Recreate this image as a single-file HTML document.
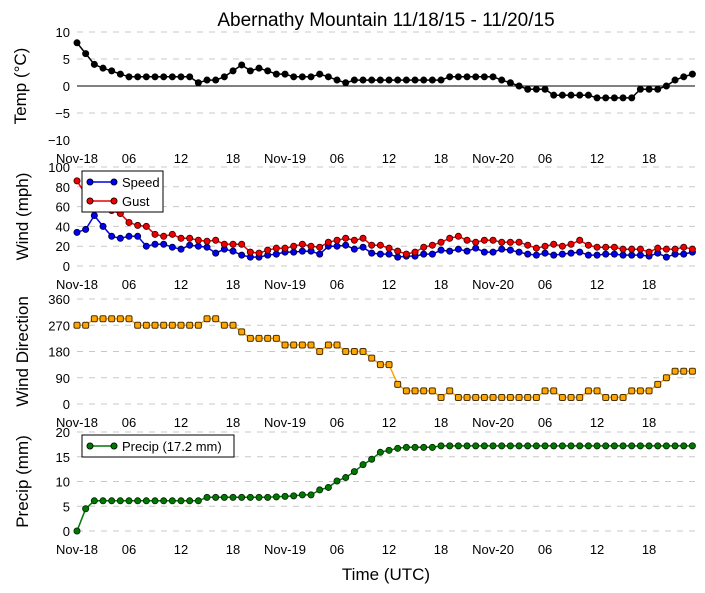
<!DOCTYPE html>
<html><head><meta charset="utf-8"><style>
body{margin:0;background:#fff;}
svg{display:block;font-family:"Liberation Sans","DejaVu Sans",sans-serif;}
</style></head><body>
<svg id="chart" width="705" height="593" viewBox="0 0 705 593" xmlns="http://www.w3.org/2000/svg">
<text x="386" y="26" font-size="19" text-anchor="middle">Abernathy Mountain 11/18/15 - 11/20/15</text>
<text x="386" y="580" font-size="17" text-anchor="middle">Time (UTC)</text>
</svg>
<script>
const xTickHours = [0, 6, 12, 18, 24, 30, 36, 42, 48, 54, 60, 66];
const xTickLabels = ["Nov-18","06","12","18","Nov-19","06","12","18","Nov-20","06","12","18"];
const temp = [8,6,4,3.3,2.8,2.2,1.7,1.7,1.7,1.7,1.7,1.7,1.7,1.7,0.6,1.1,1.1,1.7,2.8,3.9,2.8,3.3,2.8,2.2,2.2,1.7,1.7,1.7,2.2,1.7,1.1,0.6,1.1,1.1,1.1,1.1,1.1,1.1,1.1,1.1,1.1,1.1,1.1,1.7,1.7,1.7,1.7,1.7,1.7,1.1,0.6,0,-0.6,-0.6,-0.6,-1.7,-1.7,-1.7,-1.7,-1.7,-2.2,-2.2,-2.2,-2.2,-2.2,-0.6,-0.6,-0.6,0,1.1,1.7,2.2];
const speed = [34,37,51,40,30,28,30,30,20,22,22,19,17,21,20,19,13,17,15,11,9,9,11,12,14,14,15,15,12,20,20,21,17,19,13,12,12,9,10,10,12,12,16,15,17,15,18,14,14,17,16,14,12,11,13,11,12,13,14,11,11,12,12,11,11,11,10,13,9,12,12,14];
const gust = [86,72,62,58,56,53,44,41,40,32,30,32,28,28,26,25,26,22,22,22,14,13,16,18,18,20,22,20,19,24,26,28,26,28,21,21,18,15,12,14,19,21,24,28,30,26,24,26,26,24,24,24,21,18,20,22,20,22,26,21,19,19,19,17,17,17,14,18,17,17,19,17];
const dir = [270,270,292.5,292.5,292.5,292.5,292.5,270,270,270,270,270,270,270,270,292.5,292.5,270,270,247.5,225,225,225,225,202.5,202.5,202.5,202.5,180,202.5,202.5,180,180,180,157.5,135,135,67.5,45,45,45,45,22.5,45,22.5,22.5,22.5,22.5,22.5,22.5,22.5,22.5,22.5,22.5,45,45,22.5,22.5,22.5,45,45,22.5,22.5,22.5,45,45,45,67.5,90,112.5,112.5,112.5];
const precip = [0,4.5,6.1,6.1,6.1,6.1,6.1,6.1,6.1,6.1,6.1,6.1,6.1,6.1,6.1,6.8,6.8,6.8,6.8,6.8,6.8,6.8,6.8,6.9,7.0,7.1,7.3,7.3,8.3,8.8,10.1,10.8,12.0,13.4,14.5,15.9,16.3,16.7,16.9,16.9,16.9,16.9,17.2,17.2,17.2,17.2,17.2,17.2,17.2,17.2,17.2,17.2,17.2,17.2,17.2,17.2,17.2,17.2,17.2,17.2,17.2,17.2,17.2,17.2,17.2,17.2,17.2,17.2,17.2,17.2,17.2,17.2];
const tempTicks = [10,5,0,-5,-10];
const windTicks = [0,20,40,60,80,100];
const dirTicks = [0,90,180,270,360];
const precipTicks = [0,5,10,15,20];

const NS = "http://www.w3.org/2000/svg";
const svg = document.getElementById('chart');
const X0 = 77, X1 = 695, XMAX = 71.3;
const xs = h => X0 + (X1 - X0) * h / XMAX;
function el(tag, attrs, parent) {
  const e = document.createElementNS(NS, tag);
  for (const k in attrs) e.setAttribute(k, attrs[k]);
  (parent || svg).appendChild(e);
  return e;
}
function panel(o) {
  const g = el('g', {});
  
  
  const ys = v => o.bottom - (o.bottom - o.top) * (v - o.min) / (o.max - o.min);
  o.ticks.forEach(t => {
    const y = ys(t);
    if (o.grid.includes(t)) {
      const l = el('line', {x1: X0, x2: X1, y1: y, y2: y, stroke: '#c8c8c8', 'stroke-width': 1, 'stroke-dasharray': '6,6'}, g);
      
      
    }
    const tx = el('text', {x: 70, y: y + 5, 'font-size': 13, 'text-anchor': 'end'}, g);
    tx.textContent = String(t).replace('-', '\u2212');
    
    
  });
  if (o.zero) {
    const l = el('line', {x1: X0, x2: X1, y1: ys(0), y2: ys(0), stroke: '#000', 'stroke-width': 1}, g);
    
    
  }
  xTickHours.forEach((h, i) => {
    const tx = el('text', {x: xs(h), y: o.bottom + 23, 'font-size': 13, 'text-anchor': 'middle'}, g);
    tx.textContent = xTickLabels[i];
    
    
  });
  const cy = (o.top + o.bottom) / 2;
  const yl = el('text', {x: 0, y: 0, 'font-size': 17, 'text-anchor': 'middle', transform: `translate(${o.lx},${cy}) rotate(-90)`}, g);
  yl.textContent = o.label;
  
  
  o.series.forEach(s => {
    const pts = s.data.map((v, i) => xs(i).toFixed(1) + ',' + ys(v).toFixed(1)).join(' ');
    const pl = el('polyline', {points: pts, fill: 'none', stroke: s.color, 'stroke-width': 1.5}, g);
    
    
    s.data.forEach((v, i) => {
      let m;
      if (s.square) m = el('rect', {x: xs(i) - 3, y: ys(v) - 3, width: 6, height: 6, rx: 1.5, fill: s.color, stroke: s.edge, 'stroke-width': 1}, g);
      else m = el('circle', {cx: xs(i), cy: ys(v), r: 3.1, fill: s.color, stroke: s.edge, 'stroke-width': 0.8}, g);
      
      
    });
  });
  return ys;
}
panel({name: 'temp', top: 32, bottom: 140, min: -10, max: 10, ticks: tempTicks, grid: [10, 5, -5], zero: true, lx: 26, label: 'Temp (\u00b0C)',
  series: [{name: 'temp', data: temp, color: '#000', edge: '#000'}]});
panel({name: 'wind', top: 167, bottom: 266, min: 0, max: 100, ticks: windTicks, grid: windTicks, lx: 28, label: 'Wind (mph)',
  series: [{name: 'speed', data: speed, color: '#0000ee', edge: '#000033'}, {name: 'gust', data: gust, color: '#ee0000', edge: '#330000'}]});
panel({name: 'direction', top: 299, bottom: 404, min: 0, max: 360, ticks: dirTicks, grid: dirTicks, lx: 28, label: 'Wind Direction',
  series: [{name: 'direction', data: dir, color: '#ffa500', edge: '#4a3000', square: true}]});
panel({name: 'precip', top: 432, bottom: 531, min: 0, max: 20, ticks: precipTicks, grid: precipTicks, lx: 28, label: 'Precip (mm)',
  series: [{name: 'precip', data: precip, color: '#007700', edge: '#002200'}]});

function legend(name, x, y, w, h, items) {
  const g = el('g', {});
  
  
  el('rect', {x: x, y: y, width: w, height: h, fill: '#fff', stroke: '#000', 'stroke-width': 1}, g);
  items.forEach((it, i) => {
    const yy = y + 11 + i * 19;
    el('line', {x1: x + 8, x2: x + 32, y1: yy, y2: yy, stroke: it.color, 'stroke-width': 1.5}, g);
    el('circle', {cx: x + 8, cy: yy, r: 3.1, fill: it.color, stroke: '#000', 'stroke-width': 0.8}, g);
    el('circle', {cx: x + 32, cy: yy, r: 3.1, fill: it.color, stroke: '#000', 'stroke-width': 0.8}, g);
    const t = el('text', {x: x + 40, y: yy + 5, 'font-size': 13}, g);
    t.textContent = it.label;
    
    
  });
}
legend('wind-legend', 82, 171, 81, 41, [{label: 'Speed', color: '#0000ee'}, {label: 'Gust', color: '#ee0000'}]);
legend('precip-legend', 82, 435, 152, 22, [{label: 'Precip (17.2 mm)', color: '#007700'}]);
</script>
</body></html>
